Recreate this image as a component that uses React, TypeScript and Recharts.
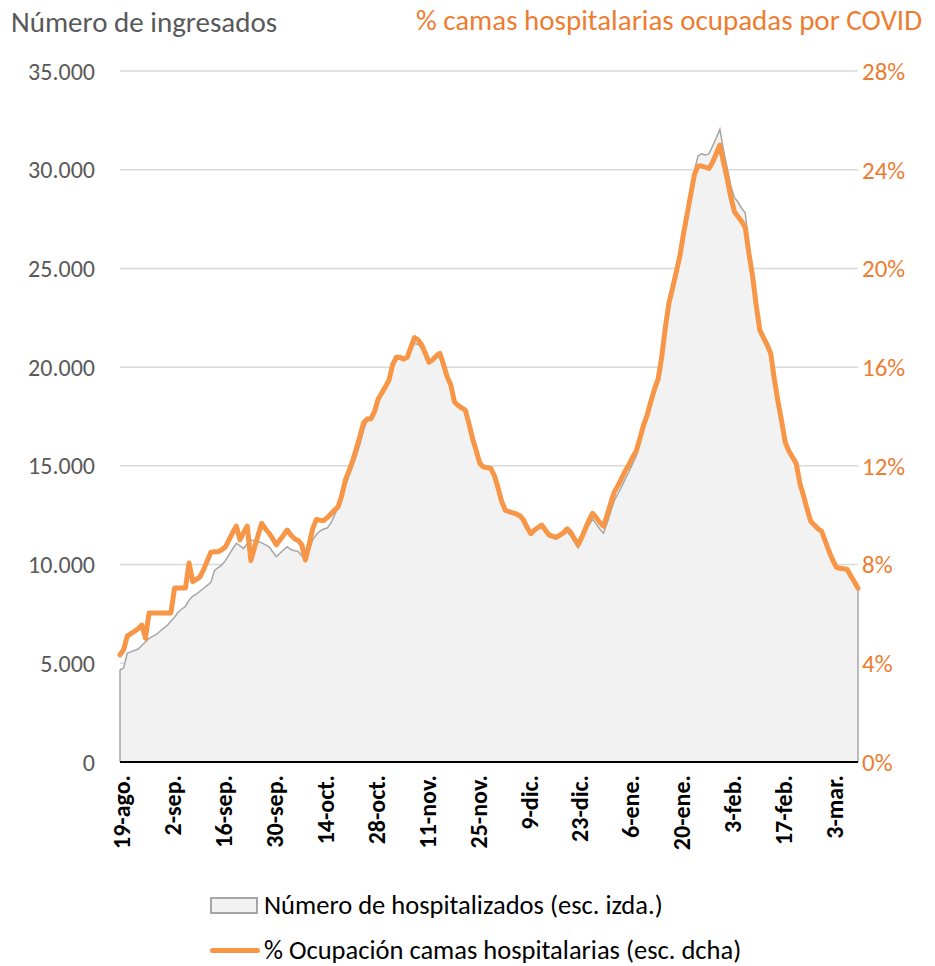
import React from 'react';
import { ComposedChart, Area, Line, XAxis, YAxis, CartesianGrid, Legend, ReferenceLine } from 'recharts';

const START_YEAR = 2020;
const START_MONTH = 7; // agosto (0-based)
const START_DAY = 19;
const MONTHS = ['ene', 'feb', 'mar', 'abr', 'may', 'jun', 'jul', 'ago', 'sep', 'oct', 'nov', 'dic'];

const xTicks = ['19-ago.', '2-sep.', '16-sep.', '30-sep.', '14-oct.', '28-oct.', '11-nov.', '25-nov.', '9-dic.', '23-dic.', '6-ene.', '20-ene.', '3-feb.', '17-feb.', '3-mar.'];
const leftTicks = [0, 5000, 10000, 15000, 20000, 25000, 30000, 35000];
const rightTicks = [0, 4, 8, 12, 16, 20, 24, 28];

// Número de hospitalizados (esc. izda.)
const hospitalizados = [
  4660, 4760, 5500, 5580, 5650, 5720, 5900, 6080, 6265, 6360,
  6460, 6620, 6780, 6920, 7130, 7330, 7600, 7750, 7880, 8200,
  8400, 8500, 8650, 8800, 8950, 9100, 9700, 9850, 9980, 10200,
  10500, 10800, 11080, 10950, 10820, 11050, 11240, 11210, 11170, 11100,
  11000, 10900, 10650, 10400, 10570, 10750, 10900, 10760, 10700, 10660,
  10450, 10150, 10700, 11250, 11520, 11700, 11800, 11850, 12100, 12500,
  12900, 13400, 13950, 14500, 15000, 15500, 16100, 16800, 17300, 17350,
  17650, 18300, 18650, 18950, 19300, 20000, 20400, 20400, 20350, 20450,
  20850, 21200, 21150, 20950, 20600, 20200, 20300, 20450, 20600, 20050,
  19450, 19000, 18200, 18000, 17900, 17800, 17100, 16350, 15700, 15050,
  14900, 14850, 14800, 14450, 13800, 13100, 12700, 12600, 12550, 12500,
  12400, 12150, 11800, 11500, 11650, 11800, 11900, 11650, 11400, 11350,
  11300, 11400, 11500, 11650, 11450, 11150, 10850, 11250, 11650, 12000,
  12300, 12050, 11800, 11600, 12100, 12700, 13250, 13600, 13950, 14350,
  14700, 15100, 15500, 16150, 16800, 17400, 18100, 18700, 19300, 20500,
  22000, 23300, 24100, 24800, 25600, 26800, 27800, 28800, 29950, 30700,
  30800, 30750, 30800, 31200, 31600, 32050, 31000, 30100, 29200, 28600,
  28350, 28050, 27800, 26100, 24600, 23000, 21900, 21500, 21100, 20700,
  19450, 18300, 17250, 16200, 15750, 15450, 15130, 14130, 13500, 12800,
  12190, 12000, 11800, 11700, 11200, 10700, 10250, 9880, 9810, 9790,
  9760, 9440, 9120, 8800,
];

// % Ocupación camas hospitalarias (esc. dcha)
const ocupacion = [
  4.34, 4.55, 5.1, 5.2, 5.3, 5.4, 5.55, 5.02, 6.04, 6.04,
  6.04, 6.04, 6.04, 6.04, 6.04, 7.05, 7.05, 7.05, 7.05, 8.06,
  7.31, 7.4, 7.5, 7.8, 8.15, 8.5, 8.52, 8.52, 8.6, 8.72,
  9.0, 9.3, 9.56, 9.0, 9.3, 9.56, 8.16, 8.7, 9.2, 9.67,
  9.45, 9.27, 9.05, 8.8, 9.0, 9.2, 9.4, 9.2, 9.05, 8.98,
  8.8, 8.19, 8.8, 9.45, 9.83, 9.8, 9.78, 9.9, 10.05, 10.2,
  10.34, 10.8, 11.43, 11.8, 12.2, 12.7, 13.2, 13.75, 13.9, 13.9,
  14.2, 14.7, 14.95, 15.2, 15.48, 16.1, 16.4, 16.4, 16.33, 16.4,
  16.8, 17.2, 17.1, 16.9, 16.55, 16.2, 16.3, 16.45, 16.56, 16.1,
  15.61, 15.28, 14.6, 14.45, 14.35, 14.26, 13.7, 13.1, 12.6, 12.1,
  11.95, 11.93, 11.9, 11.6, 11.1, 10.55, 10.2, 10.15, 10.1, 10.05,
  9.98, 9.8, 9.5, 9.25, 9.4, 9.5, 9.6, 9.4, 9.2, 9.15,
  9.1, 9.2, 9.3, 9.45, 9.3, 9.05, 8.8, 9.1, 9.45, 9.8,
  10.08, 9.9, 9.7, 9.55, 10.0, 10.5, 10.95, 11.2, 11.5, 11.8,
  12.05, 12.35, 12.6, 13.1, 13.65, 14.05, 14.6, 15.1, 15.5, 16.4,
  17.6, 18.6, 19.2, 19.85, 20.5, 21.4, 22.2, 23.0, 23.8, 24.15,
  24.15, 24.1, 24.05, 24.3, 24.65, 25.0, 24.3, 23.65, 22.9, 22.3,
  22.1, 21.9, 21.65, 20.6, 19.7, 18.5, 17.5, 17.2, 16.9, 16.55,
  15.5, 14.6, 13.8, 12.95, 12.6, 12.35, 12.1, 11.3, 10.8, 10.25,
  9.75, 9.6, 9.45, 9.35, 8.95, 8.55, 8.2, 7.9, 7.85, 7.83,
  7.81, 7.55, 7.3, 7.04,
];

const dateLabel = (i: number) => {
  const d = new Date(Date.UTC(START_YEAR, START_MONTH, START_DAY + i));
  return `${d.getUTCDate()}-${MONTHS[d.getUTCMonth()]}.`;
};

const data = hospitalizados.map((h, i) => ({
  date: dateLabel(i),
  hosp: h,
  pct: ocupacion[i],
}));

const FONT = 'Carlito, Calibri, Lato, sans-serif';
const GRAY_TEXT = '#595959';
const ORANGE_TEXT = '#ED7D31';
const ORANGE_LINE = '#F79646';

const fmtThousands = (v: number) => {
  if (v < 1000) return String(v);
  return `${Math.floor(v / 1000)}.${String(v % 1000).padStart(3, '0')}`;
};

const XTick = (props: any) => {
  const { x, y, payload } = props;
  return (
    <text
      x={x + 2}
      y={y}
      transform={`rotate(-90 ${x + 2} ${y})`}
      textAnchor="end"
      dy="0.35em"
      fontFamily={FONT}
      fontSize={24}
      fontWeight={700}
      fill="#000"
    >
      {payload.value}
    </text>
  );
};

const LegendContent = () => (
  <div style={{ fontFamily: FONT, fontSize: 26.5, color: '#000', lineHeight: '30px', whiteSpace: 'nowrap' }}>
    <div style={{ display: 'flex', alignItems: 'center', height: 30 }}>
      <span style={{ display: 'inline-block', width: 48, height: 17, background: '#F2F2F2', border: '2px solid #A6A6A6', marginRight: 6, boxSizing: 'border-box' }} />
      <span>Número de hospitalizados (esc. izda.)</span>
    </div>
    <div style={{ display: 'flex', alignItems: 'center', height: 30, marginTop: 15 }}>
      <span style={{ display: 'inline-block', width: 50, height: 5, background: ORANGE_LINE, borderRadius: 3, marginRight: 4 }} />
      <span>% Ocupación camas hospitalarias (esc. dcha)</span>
    </div>
  </div>
);

export default function App() {
  const lastDate = data[data.length - 1].date;
  const firstDate = data[0].date;
  return (
    <div style={{ position: 'absolute', left: 0, top: 0, width: 935, height: 966, background: '#fff' }}>
      <div style={{ position: 'absolute', left: 11, top: 4, fontFamily: FONT, fontSize: 29, lineHeight: '36px', color: GRAY_TEXT, whiteSpace: 'nowrap' }}>
        Número de ingresados
      </div>
      <div style={{ position: 'absolute', right: 13, top: 2, fontFamily: FONT, fontSize: 29, lineHeight: '36px', color: ORANGE_TEXT, whiteSpace: 'nowrap' }}>
        % camas hospitalarias ocupadas por COVID
      </div>
      <ComposedChart
        width={935}
        height={966}
        data={data}
        margin={{ top: 71, right: 0, bottom: 94, left: 0 }}
      >
        <CartesianGrid yAxisId="left" horizontal vertical={false} stroke="#D9D9D9" strokeWidth={1.5} />
        <XAxis
          dataKey="date"
          ticks={xTicks}
          interval={0}
          tick={<XTick />}
          tickLine={false}
          tickSize={0}
          tickMargin={13}
          height={110}
          axisLine={{ stroke: '#000', strokeWidth: 2 }}
        />
        <YAxis
          yAxisId="left"
          width={120}
          domain={[0, 35000]}
          ticks={leftTicks}
          tickFormatter={fmtThousands}
          axisLine={false}
          tickLine={false}
          tickSize={0}
          tickMargin={25}
          tick={{ fontFamily: FONT, fontSize: 24, fill: GRAY_TEXT }}
        />
        <YAxis
          yAxisId="right"
          orientation="right"
          width={77}
          domain={[0, 28]}
          ticks={rightTicks}
          tickFormatter={(v: number) => `${v}%`}
          axisLine={false}
          tickLine={false}
          tickSize={0}
          tickMargin={4}
          tick={{ fontFamily: FONT, fontSize: 25, fill: ORANGE_TEXT, textAnchor: 'start' }}
        />
        <Area
          yAxisId="left"
          type="linear"
          dataKey="hosp"
          stroke="#A6A6A6"
          strokeWidth={1.5}
          fill="#F2F2F2"
          fillOpacity={1}
          isAnimationActive={false}
          dot={false}
          activeDot={false}
        />
        <ReferenceLine
          yAxisId="left"
          segment={[{ x: firstDate, y: 0 }, { x: firstDate, y: hospitalizados[0] }]}
          stroke="#A6A6A6"
          strokeWidth={1.5}
        />
        <ReferenceLine
          yAxisId="left"
          segment={[{ x: lastDate, y: 0 }, { x: lastDate, y: hospitalizados[hospitalizados.length - 1] }]}
          stroke="#A6A6A6"
          strokeWidth={1.5}
        />
        <Line
          yAxisId="right"
          type="linear"
          dataKey="pct"
          stroke={ORANGE_LINE}
          strokeWidth={5}
          strokeLinejoin="round"
          strokeLinecap="round"
          dot={false}
          activeDot={false}
          isAnimationActive={false}
        />
        <Legend
          layout="horizontal"
          verticalAlign="middle"
          align="center"
          content={<LegendContent />}
          wrapperStyle={{ position: 'absolute', left: 210, top: 890, width: 700, height: 80 }}
        />
      </ComposedChart>
    </div>
  );
}
